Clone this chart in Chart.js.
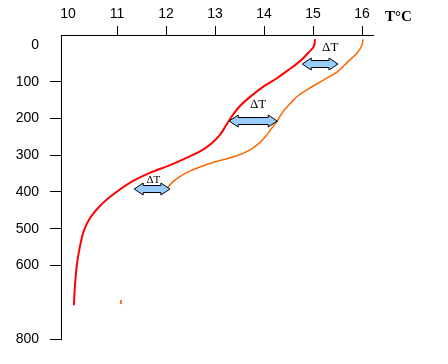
<!DOCTYPE html>
<html><head><meta charset="utf-8">
<script src="https://cdn.jsdelivr.net/npm/chart.js@4"></script>
<style>html,body{margin:0;padding:0;background:#fff}#wrap{width:448px;height:364px}</style>
</head><body><div id="wrap"><canvas id="c" width="448" height="364"></canvas></div>
<script>
// Tick labels
const tempTicks = [10, 11, 12, 13, 14, 15, 16];
const depthTicks = [0, 100, 200, 300, 400, 500, 600, 700, 800];

// Red profile (temperature °C, depth m)
const redT = [15.04, 15.02, 14.90, 14.74, 14.53, 14.27, 13.98, 13.71, 13.51, 13.35, 13.22, 13.10, 12.94, 12.74, 12.45, 12.08, 11.67, 11.33, 10.96, 10.65, 10.45, 10.33, 10.25, 10.18, 10.14, 10.12];
const redDepth = [-16, 3, 22, 44, 65, 90, 114, 142, 166, 193, 220, 245, 267, 286, 305, 327, 348, 370, 403, 438, 471, 503, 544, 599, 659, 708];

// Orange profile
const orangeT = [16.02, 16.00, 15.90, 15.71, 15.49, 15.22, 14.94, 14.69, 14.51, 14.37, 14.27, 14.16, 14.04, 13.90, 13.71, 13.43, 13.06, 12.69, 12.41, 12.16, 11.98];
const orangeDepth = [-16, 0, 22, 46, 74, 95, 117, 139, 163, 185, 207, 226, 248, 267, 286, 302, 316, 332, 348, 370, 397];

// Stray orange mark
const strayT = [11.08, 11.08];
const strayDepth = [694, 705];

// ΔT arrows
const deltaFrom = [14.78, 13.29, 11.35];
const deltaTo = [15.51, 14.27, 12.08];
const deltaDepth = [52, 207, 392];
const deltaLabelT = [15.35, 13.88, 11.74];
const deltaLabelDepth = [8, 163, 367];
const deltaLabel = 'ΔT';
const axisUnit = 'T°C';

const pts = (xs, ys) => xs.map((v, i) => ({ x: v, y: ys[i] }));

const arrowPlugin = {
  id: 'arrows',
  afterDatasetsDraw(chart) {
    const { ctx, scales: { x, y } } = chart;
    ctx.save();
    for (let i = 0; i < deltaFrom.length; i++) {
      const x1 = x.getPixelForValue(deltaFrom[i]);
      const x2 = x.getPixelForValue(deltaTo[i]);
      const yy = y.getPixelForValue(deltaDepth[i]);
      const hl = 9, hh = 6, bh = 3.5;
      ctx.beginPath();
      ctx.moveTo(x1, yy);
      ctx.lineTo(x1 + hl, yy - hh);
      ctx.lineTo(x1 + hl, yy - bh);
      ctx.lineTo(x2 - hl, yy - bh);
      ctx.lineTo(x2 - hl, yy - hh);
      ctx.lineTo(x2, yy);
      ctx.lineTo(x2 - hl, yy + hh);
      ctx.lineTo(x2 - hl, yy + bh);
      ctx.lineTo(x1 + hl, yy + bh);
      ctx.lineTo(x1 + hl, yy + hh);
      ctx.closePath();
      ctx.fillStyle = '#99CCFF';
      ctx.fill();
      ctx.strokeStyle = '#000';
      ctx.lineWidth = 1;
      ctx.stroke();
    }
    ctx.fillStyle = '#000';
    ctx.textAlign = 'center';
    ctx.textBaseline = 'middle';
    for (let i = 0; i < deltaLabelT.length; i++) {
      ctx.font = (i === 2 ? '11px' : '13px') + ' "Liberation Serif", serif';
      ctx.fillText(deltaLabel, x.getPixelForValue(deltaLabelT[i]), y.getPixelForValue(deltaLabelDepth[i]));
    }
    ctx.font = 'bold 15px "Liberation Serif", serif';
    ctx.textAlign = 'left';
    ctx.fillText(axisUnit, x.right + 12, chart.chartArea.top - 18);
    ctx.restore();
  }
};

const tickFont = { family: '"Liberation Sans", Arial, sans-serif', size: 14 };

new Chart(document.getElementById('c'), {
  type: 'scatter',
  data: {
    datasets: [
      { data: pts(redT, redDepth), showLine: true, borderColor: '#FF0000', borderWidth: 2, cubicInterpolationMode: 'monotone', pointRadius: 0 },
      { data: pts(orangeT, orangeDepth), showLine: true, borderColor: '#FF6600', borderWidth: 1.5, cubicInterpolationMode: 'monotone', pointRadius: 0 },
      { data: pts(strayT, strayDepth), showLine: true, borderColor: '#FF6600', borderWidth: 1, pointRadius: 0 }
    ]
  },
  options: {
    indexAxis: 'y',
    responsive: false,
    animation: false,
    devicePixelRatio: 1,
    layout: { padding: { left: 0, top: 0, right: 75, bottom: 25 } },
    plugins: { legend: { display: false }, tooltip: { enabled: false }, title: { display: false } },
    scales: {
      x: {
        type: 'linear', position: 'top', min: 9.857, max: 16.224,
        afterBuildTicks: s => { s.ticks = tempTicks.map(v => ({ value: v })); },
        afterFit: s => { s.height = 35; },
        ticks: { font: tickFont, color: '#000', padding: 3, maxRotation: 0, autoSkip: false },
        grid: { drawOnChartArea: false, tickLength: 9, tickWidth: 1,
          tickColor: c => (c.tick && c.tick.value === 10) ? 'rgba(0,0,0,0)' : '#000' },
        border: { color: '#000', width: 1 }
      },
      y: {
        type: 'linear', position: 'left', reverse: true, min: -27, max: 800,
        afterBuildTicks: s => { s.ticks = depthTicks.map(v => ({ value: v })); },
        afterFit: s => { s.width = 61; },
        ticks: { font: tickFont, color: '#000', padding: 11, autoSkip: false, callback: v => v === 700 ? '' : String(v) },
        grid: { drawOnChartArea: false, tickLength: 11, tickWidth: 1,
          tickColor: c => (c.tick && (c.tick.value === 0 || c.tick.value === 700)) ? 'rgba(0,0,0,0)' : '#000' },
        border: { color: '#000', width: 1 }
      }
    }
  },
  plugins: [arrowPlugin]
});
</script></body></html>
